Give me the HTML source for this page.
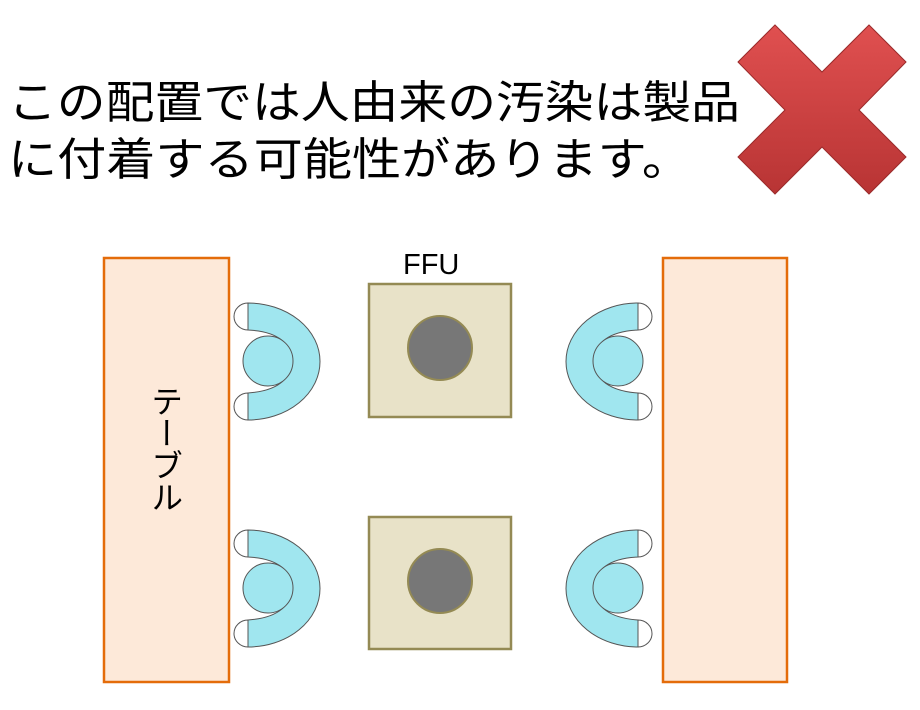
<!DOCTYPE html>
<html><head><meta charset="utf-8"><style>
body{margin:0;width:920px;height:710px;background:#fff;overflow:hidden}
svg{display:block}
</style></head><body>
<svg width="920" height="710" xmlns="http://www.w3.org/2000/svg">
<defs>
<linearGradient id="xg" x1="0" y1="0" x2="0" y2="1"><stop offset="0" stop-color="#e05050"/><stop offset="1" stop-color="#b83434"/></linearGradient>
<g id="person">
  <path d="M248,303 A14,13.5 0 0 0 248,330 Z" fill="#fff" stroke="#555" stroke-width="1"/>
  <path d="M248,393 A14,13.5 0 0 0 248,420 Z" fill="#fff" stroke="#555" stroke-width="1"/>
  <path d="M248,303 A72,58.5 0 0 1 248,420 L248,393 Q290,390 292,361 Q290,332 248,330 Z" fill="#a0e6ef" stroke="#555" stroke-width="1"/>
  <circle cx="268" cy="361" r="25" fill="#a0e6ef" stroke="#555" stroke-width="1"/>
</g>
</defs>
<g font-family="Liberation Sans, Noto Sans CJK JP, sans-serif" font-size="45" fill="#000">
<text x="8" y="118" textLength="732" lengthAdjust="spacingAndGlyphs">この配置では人由来の汚染は製品</text>
<text x="8" y="175" textLength="683" lengthAdjust="spacingAndGlyphs">に付着する可能性があります。</text>
</g>
<g>
<polygon points="738,62 775,25 822,72 869,25 906,62 859,110 906,157 869,194 822,147 775,194 738,157 785,110" fill="url(#xg)" stroke="#9a2a2a" stroke-width="1"/>
</g>
<rect x="104" y="258" width="125" height="424" fill="#fde9d9" stroke="#e46c0a" stroke-width="2.5"/>
<rect x="663" y="258" width="124" height="424" fill="#fde9d9" stroke="#e46c0a" stroke-width="2.5"/>
<text x="165" y="385" font-family="Liberation Sans, Noto Sans CJK JP, sans-serif" font-size="32" style="writing-mode:vertical-rl" fill="#000">テーブル</text>
<text x="403" y="274" font-family="Liberation Sans, sans-serif" font-size="29" fill="#000">FFU</text>
<rect x="369" y="284" width="142" height="133" fill="#e8e2c8" stroke="#948a54" stroke-width="2.5"/>
<rect x="369" y="517" width="142" height="132" fill="#e8e2c8" stroke="#948a54" stroke-width="2.5"/>
<circle cx="440" cy="348" r="32" fill="#777" stroke="#948a54" stroke-width="2"/>
<circle cx="440" cy="581" r="32" fill="#777" stroke="#948a54" stroke-width="2"/>
<use href="#person"/>
<use href="#person" transform="translate(0,227)"/>
<use href="#person" transform="translate(886,0) scale(-1,1)"/>
<use href="#person" transform="translate(886,227) scale(-1,1)"/>
</svg>
</body></html>
